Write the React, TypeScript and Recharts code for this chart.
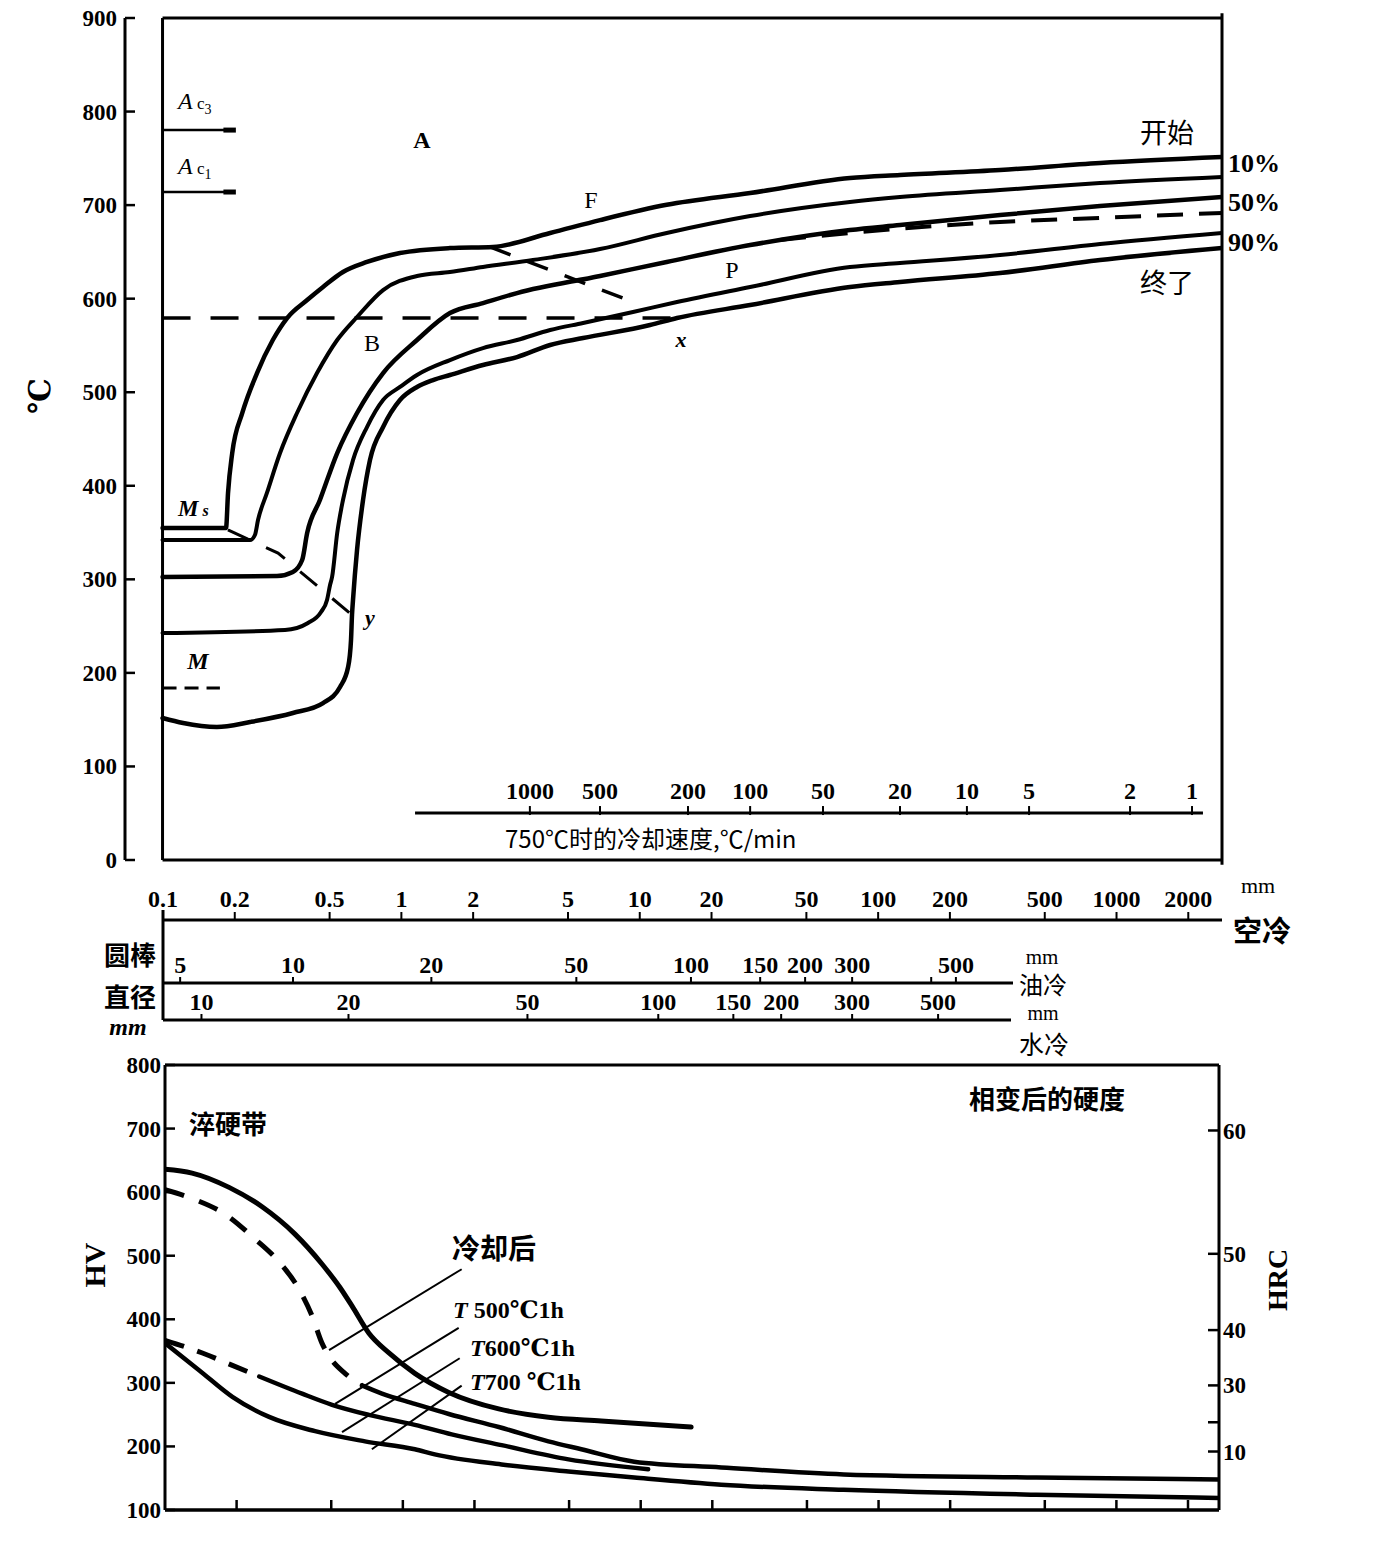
import React from 'react';
import { ComposedChart, Line, Scatter, XAxis, YAxis, ReferenceLine } from 'recharts';

const SERIF = '"Liberation Serif", "DejaVu Serif", serif';
const CJK = '"Noto Sans CJK SC", "Noto Sans CJK JP", sans-serif';

// ---------------- CCT diagram (top) ----------------
const tempTicks = [0, 100, 200, 300, 400, 500, 600, 700, 800, 900];

const startCurve = [
  { mm: 0.1, t: 354.9 }, { mm: 0.1846, t: 354.9 }, { mm: 0.1882, t: 392.3 }, { mm: 0.196, t: 435 },
  { mm: 0.216, t: 477.8 }, { mm: 0.249, t: 520.5 }, { mm: 0.29, t: 555.8 }, { mm: 0.333, t: 579.3 },
  { mm: 0.404, t: 598.5 }, { mm: 0.471, t: 612.5 }, { mm: 0.571, t: 628.5 }, { mm: 0.72, t: 639.2 },
  { mm: 0.99, t: 648.8 }, { mm: 1.604, t: 654.1 }, { mm: 2.43, t: 655.3 }, { mm: 4.22, t: 670.2 },
  { mm: 6.83, t: 684 }, { mm: 13.0, t: 700.3 }, { mm: 29.1, t: 712.9 }, { mm: 76.3, t: 729 },
  { mm: 123.7, t: 732.2 }, { mm: 325, t: 737.5 }, { mm: 853, t: 745 }, { mm: 2770, t: 751.4 },
];
const tenPctCurve = [
  { mm: 0.1, t: 342 }, { mm: 0.233, t: 342 }, { mm: 0.244, t: 347.4 }, { mm: 0.2514, t: 363.4 },
  { mm: 0.274, t: 392.3 }, { mm: 0.311, t: 435 }, { mm: 0.3664, t: 477.8 }, { mm: 0.4444, t: 520.5 },
  { mm: 0.54, t: 555.8 }, { mm: 0.654, t: 580.4 }, { mm: 0.841, t: 609.2 }, { mm: 1.167, t: 624.2 },
  { mm: 1.604, t: 628.5 }, { mm: 2.207, t: 633.8 }, { mm: 3.575, t: 641.3 }, { mm: 6.83, t: 653 },
  { mm: 13.0, t: 670.2 }, { mm: 29.1, t: 688.3 }, { mm: 76.3, t: 703.3 }, { mm: 123.7, t: 708.6 },
  { mm: 325, t: 716.1 }, { mm: 853, t: 723.6 }, { mm: 2770, t: 730.1 },
];
const fiftyPctCurve = [
  { mm: 0.1, t: 302.5 }, { mm: 0.302, t: 303.5 }, { mm: 0.352, t: 307.8 }, { mm: 0.385, t: 320.6 },
  { mm: 0.404, t: 349.5 }, { mm: 0.457, t: 384.8 }, { mm: 0.54, t: 435 }, { mm: 0.654, t: 477.8 },
  { mm: 0.841, t: 520.5 }, { mm: 1.167, t: 555.8 }, { mm: 1.604, t: 584.6 }, { mm: 2.207, t: 595.3 },
  { mm: 3.065, t: 606 }, { mm: 6.83, t: 624.2 }, { mm: 13.0, t: 639.2 }, { mm: 29.1, t: 657.3 },
  { mm: 76.3, t: 673.4 }, { mm: 123.7, t: 678.7 }, { mm: 325, t: 689.4 }, { mm: 853, t: 699 },
  { mm: 2770, t: 708.6 },
];
const ninetyPctCurve = [
  { mm: 0.1, t: 242.6 }, { mm: 0.3263, t: 245.8 }, { mm: 0.4074, t: 253.3 }, { mm: 0.462, t: 265.1 },
  { mm: 0.4895, t: 277.9 }, { mm: 0.504, t: 293.9 }, { mm: 0.514, t: 302.5 }, { mm: 0.54, t: 349.5 },
  { mm: 0.571, t: 384.8 }, { mm: 0.629, t: 427.5 }, { mm: 0.72, t: 462.8 }, { mm: 0.841, t: 491.7 },
  { mm: 0.99, t: 505.6 }, { mm: 1.167, t: 518.4 }, { mm: 1.604, t: 534.4 }, { mm: 2.207, t: 547.2 },
  { mm: 3.065, t: 555.8 }, { mm: 4.22, t: 566.5 }, { mm: 5.8, t: 574 }, { mm: 9.39, t: 585.7 },
  { mm: 14.36, t: 596.4 }, { mm: 29.1, t: 612.4 }, { mm: 76.3, t: 633.8 }, { mm: 123.7, t: 638.1 },
  { mm: 325, t: 646.7 }, { mm: 853, t: 658.4 }, { mm: 2770, t: 670.2 },
];
const finishCurve = [
  { mm: 0.1, t: 151.8 }, { mm: 0.122, t: 146.4 }, { mm: 0.169, t: 142.2 }, { mm: 0.233, t: 147.5 },
  { mm: 0.352, t: 157.1 }, { mm: 0.471, t: 167.8 }, { mm: 0.555, t: 184.9 }, { mm: 0.6, t: 206.3 },
  { mm: 0.617, t: 235.1 }, { mm: 0.623, t: 261.9 }, { mm: 0.629, t: 277.9 }, { mm: 0.654, t: 331.3 },
  { mm: 0.693, t: 384.8 }, { mm: 0.741, t: 427.5 }, { mm: 0.841, t: 462.8 }, { mm: 0.99, t: 491.7 },
  { mm: 1.167, t: 505.6 }, { mm: 1.362, t: 513 }, { mm: 1.604, t: 518.4 }, { mm: 2.207, t: 529.1 },
  { mm: 3.065, t: 537.6 }, { mm: 4.22, t: 550.5 }, { mm: 5.8, t: 557.9 }, { mm: 11.07, t: 571.8 },
  { mm: 14.36, t: 579.3 }, { mm: 29.1, t: 593.2 }, { mm: 76.3, t: 612.4 }, { mm: 123.7, t: 617.8 },
  { mm: 325, t: 627.4 }, { mm: 853, t: 641.3 }, { mm: 2770, t: 654.1 },
];
const pearliteDashed = [
  { mm: 38.8, t: 662.7 }, { mm: 76.3, t: 670.2 }, { mm: 325, t: 682 }, { mm: 853, t: 686.3 }, { mm: 2770, t: 691.7 },
];
const iso600Path = [{ mm: 0.1, t: 579.3 }, { mm: 14.09, t: 579.3 }];
const ferriteArrowPath = [{ mm: 2.36, t: 655.3 }, { mm: 8.95, t: 598.5 }];
const martensitePath = [{ mm: 0.188, t: 352.8 }, { mm: 0.305, t: 328.1 }, { mm: 0.623, t: 261.9 }];
const ac3Line = [{ mm: 0.1, t: 780.2 }, { mm: 0.201, t: 780.2 }];
const ac3Head = [{ mm: 0.18, t: 780.2 }, { mm: 0.203, t: 780.2 }];
const ac1Line = [{ mm: 0.1, t: 714 }, { mm: 0.201, t: 714 }];
const ac1Head = [{ mm: 0.18, t: 714 }, { mm: 0.203, t: 714 }];
const mLine = [{ mm: 0.1, t: 183.8 }, { mm: 0.174, t: 183.8 }];

const rateAxisLine = [{ mm: 1.145, t: 50.2 }, { mm: 2305, t: 50.2 }];
const rateTickPos = [3.47, 6.83, 15.97, 29.1, 58.8, 123.7, 236, 430, 1140, 2074];
const rateLabels = ['1000', '500', '200', '100', '50', '20', '10', '5', '2', '1'];
const rateTicks = rateTickPos.map((mm, i) => ({ mm, t: 50.2, label: rateLabels[i] }));

// ---------------- bar-diameter scales ----------------
const airTicks = [0.1, 0.2, 0.5, 1, 2, 5, 10, 20, 50, 100, 200, 500, 1000, 2000];
const airLabels = ['0.1', '0.2', '0.5', '1', '2', '5', '10', '20', '50', '100', '200', '500', '1000', '2000'];
const oilTickPos = [0.118, 0.351, 1.336, 5.42, 16.4, 32.0, 49.4, 77.8, 167, 212];
const oilLabels = ['5', '10', '20', '50', '100', '150', '200', '300', '', '500'];
const waterTickPos = [0.145, 0.6, 3.38, 11.96, 24.7, 39.2, 77.8, 178.5];
const waterLabels = ['10', '20', '50', '100', '150', '200', '300', '500'];

const airRows = airTicks.map((mm) => ({ mm, v: 0 }));
const oilRows = oilTickPos.map((mm) => ({ mm, v: 0 }));
const waterRows = waterTickPos.map((mm) => ({ mm, v: 0 }));

// ---------------- hardness chart (bottom) ----------------
const hvTicks = [100, 200, 300, 400, 500, 600, 700, 800];
const hrcTickHV = [697, 503, 383, 296, 238, 192];
const hrcLabels = ['60', '50', '40', '30', '', '10'];
const hardXTicks = [0.2, 0.5, 1, 2, 5, 10, 20, 50, 100, 200, 500, 1000, 2000];

const asCooledUpper = [
  { mm: 0.1, hv: 636 }, { mm: 0.13, hv: 630 }, { mm: 0.186, hv: 607.5 }, { mm: 0.256, hv: 577 },
  { mm: 0.352, hv: 534 }, { mm: 0.457, hv: 487 }, { mm: 0.544, hv: 450 }, { mm: 0.611, hv: 421 },
  { mm: 0.72, hv: 378 }, { mm: 0.874, hv: 347 }, { mm: 1.123, hv: 315 }, { mm: 1.56, hv: 285 },
  { mm: 2.53, hv: 259 }, { mm: 4.09, hv: 246 }, { mm: 6.83, hv: 240 }, { mm: 16.3, hv: 230.5 },
];
const asCooledDashed = [
  { mm: 0.1, hv: 604 }, { mm: 0.13, hv: 590 }, { mm: 0.1794, hv: 565 }, { mm: 0.2395, hv: 526 },
  { mm: 0.302, hv: 490 }, { mm: 0.3664, hv: 447 }, { mm: 0.415, hv: 405.5 }, { mm: 0.457, hv: 362.5 },
  { mm: 0.4895, hv: 342 }, { mm: 0.571, hv: 315 }, { mm: 0.673, hv: 296 },
];
const temper500 = [
  { mm: 0.673, hv: 296 }, { mm: 0.817, hv: 283 }, { mm: 1.123, hv: 267 }, { mm: 1.56, hv: 251 },
  { mm: 2.53, hv: 230.5 }, { mm: 4.09, hv: 208 }, { mm: 5.63, hv: 195.5 }, { mm: 9.39, hv: 176 },
  { mm: 21.8, hv: 167 }, { mm: 71.3, hv: 156 }, { mm: 460, hv: 151 }, { mm: 2700, hv: 148 },
];
const temper600Dashed = [
  { mm: 0.1, hv: 367 }, { mm: 0.1436, hv: 347 }, { mm: 0.192, hv: 327.5 }, { mm: 0.249, hv: 310 },
];
const temper600 = [
  { mm: 0.249, hv: 310 }, { mm: 0.377, hv: 283 }, { mm: 0.504, hv: 265.5 }, { mm: 0.72, hv: 249.6 },
  { mm: 1.123, hv: 234 }, { mm: 1.604, hv: 219 }, { mm: 2.6, hv: 202 }, { mm: 4.97, hv: 179.6 },
  { mm: 10.75, hv: 164 },
];
const temper700 = [
  { mm: 0.1, hv: 362.5 }, { mm: 0.1395, hv: 319.6 }, { mm: 0.192, hv: 278 }, { mm: 0.274, hv: 246.4 },
  { mm: 0.4276, hv: 224 }, { mm: 0.693, hv: 208 }, { mm: 1.123, hv: 195.5 }, { mm: 1.362, hv: 187.5 },
  { mm: 2.6, hv: 171.6 }, { mm: 4.97, hv: 160.5 }, { mm: 9.39, hv: 151 }, { mm: 21.8, hv: 139.8 },
  { mm: 71.3, hv: 131.8 }, { mm: 460, hv: 124 }, { mm: 2700, hv: 119 },
];
const leaderCooled = [{ mm: 0.4895, hv: 351.4 }, { mm: 1.767, hv: 478.7 }];
const leader500 = [{ mm: 0.519, hv: 267 }, { mm: 1.717, hv: 386.4 }];
const leader600 = [{ mm: 0.555, hv: 222.5 }, { mm: 1.734, hv: 338.7 }];
const leader700 = [{ mm: 0.741, hv: 195.5 }, { mm: 1.767, hv: 295.7 }];

// ---------------- helpers ----------------
const LeftTick = (gap: number) => (props: any) => {
  const { x, y, payload } = props;
  return (
    <g>
      <line x1={x} x2={x + 10} y1={y} y2={y} stroke="#000" strokeWidth={2.5} />
      <text x={x - gap} y={y} dy="0.35em" textAnchor="end" fontFamily={SERIF} fontWeight="bold" fontSize={23} fill="#000">
        {payload.value}
      </text>
    </g>
  );
};

const HrcTick = (props: any) => {
  const { x, y, payload } = props;
  const i = hrcTickHV.indexOf(payload.value);
  return (
    <g>
      <line x1={x - 11} x2={x} y1={y} y2={y} stroke="#000" strokeWidth={2.5} />
      <text x={x + 4} y={y} dy="0.35em" textAnchor="start" fontFamily={SERIF} fontWeight="bold" fontSize={23} fill="#000">
        {hrcLabels[i]}
      </text>
    </g>
  );
};

const BottomInnerTick = (props: any) => {
  const { x, y } = props;
  return <line x1={x} x2={x} y1={y} y2={y - 10} stroke="#000" strokeWidth={2.5} />;
};

const RateTick = (props: any) => {
  const { cx, cy, payload } = props;
  return (
    <g>
      <line x1={cx} x2={cx} y1={cy + 2} y2={cy - 7} stroke="#000" strokeWidth={2} />
      <text x={cx} y={cy - 14} textAnchor="middle" fontFamily={SERIF} fontWeight="bold" fontSize={24} fill="#000">
        {payload.label}
      </text>
    </g>
  );
};

const lookup = (ticks: number[], labels: string[]) => (v: number) => {
  const i = ticks.indexOf(v);
  return i >= 0 ? labels[i] : '';
};

const Txt = ({ x, y, size, children, bold = false, italic = false, font = SERIF, rotate = 0, anchor = 'middle' }: any) => (
  <div
    style={{
      position: 'absolute',
      left: x,
      top: y,
      transform: `translate(${anchor === 'start' ? '0' : '-50%'}, -50%)${rotate ? ` rotate(${rotate}deg)` : ''}`,
      fontSize: size,
      fontFamily: font,
      fontWeight: bold ? 'bold' : 'normal',
      fontStyle: italic ? 'italic' : 'normal',
      whiteSpace: 'nowrap',
      lineHeight: 1,
      color: '#000',
    }}
  >
    {children}
  </div>
);

const K = '#000';
const solid = (data: any[], w = 4.5, key?: string) => (
  <Line key={key} data={data} dataKey="t" xAxisId="x" yAxisId="t" type="monotone" dot={false} stroke={K}
    strokeWidth={w} isAnimationActive={false} strokeLinecap="round" />
);

const axisTextStyle = { fontFamily: SERIF, fontSize: 24, fontWeight: 'bold', fill: '#000' } as any;

export default function App() {
  return (
    <div style={{ position: 'absolute', left: 0, top: 0, width: 1400, height: 1553, background: '#fff', overflow: 'hidden' }}>
      {/* Top CCT chart */}
      <div style={{ position: 'absolute', left: 0, top: 0 }}>
        <ComposedChart width={1240} height={880} margin={{ top: 18, right: 18, bottom: 20, left: 0 }}>
          <XAxis xAxisId="x" type="number" dataKey="mm" scale="log" domain={[0.0696, 2770]} allowDataOverflow hide />
          <YAxis yAxisId="t" type="number" dataKey="t" domain={[0, 900]} ticks={tempTicks} interval={0} width={125}
            tickSize={0} tickMargin={0} tickLine={false} axisLine={{ stroke: K, strokeWidth: 3 }} tick={LeftTick(8)} allowDataOverflow />
          <ReferenceLine xAxisId="x" yAxisId="t" ifOverflow="visible" segment={[{ x: 0.1, y: 0 }, { x: 0.1, y: 900 }]} stroke={K} strokeWidth={3} />
          <ReferenceLine xAxisId="x" yAxisId="t" ifOverflow="visible" segment={[{ x: 0.1, y: 900 }, { x: 2770, y: 900 }]} stroke={K} strokeWidth={3} />
          <ReferenceLine xAxisId="x" yAxisId="t" ifOverflow="visible" segment={[{ x: 0.1, y: 0 }, { x: 2770, y: 0 }]} stroke={K} strokeWidth={3} />
          <ReferenceLine xAxisId="x" yAxisId="t" ifOverflow="visible" segment={[{ x: 2770, y: -5 }, { x: 2770, y: 905 }]} stroke={K} strokeWidth={3} />
          {solid(startCurve, 4.5, 'c1')}
          {solid(tenPctCurve, 4, 'c2')}
          {solid(fiftyPctCurve, 4.5, 'c3')}
          {solid(ninetyPctCurve, 4, 'c4')}
          {solid(finishCurve, 4.5, 'c5')}
          <Line data={pearliteDashed} dataKey="t" xAxisId="x" yAxisId="t" type="monotone" dot={false} stroke={K} strokeWidth={4} strokeDasharray="26 16" isAnimationActive={false} />
          <Line data={iso600Path} dataKey="t" xAxisId="x" yAxisId="t" type="linear" dot={false} stroke={K} strokeWidth={3.5} strokeDasharray="28 20" isAnimationActive={false} />
          <Line data={ferriteArrowPath} dataKey="t" xAxisId="x" yAxisId="t" type="linear" dot={false} stroke={K} strokeWidth={3.5} strokeDasharray="22 18" isAnimationActive={false} />
          <Line data={martensitePath} dataKey="t" xAxisId="x" yAxisId="t" type="linear" dot={false} stroke={K} strokeWidth={3} strokeDasharray="22 20" isAnimationActive={false} />
          <Line data={ac3Line} dataKey="t" xAxisId="x" yAxisId="t" type="linear" dot={false} stroke={K} strokeWidth={2.5} isAnimationActive={false} />
          <Line data={ac3Head} dataKey="t" xAxisId="x" yAxisId="t" type="linear" dot={false} stroke={K} strokeWidth={5} isAnimationActive={false} />
          <Line data={ac1Line} dataKey="t" xAxisId="x" yAxisId="t" type="linear" dot={false} stroke={K} strokeWidth={2.5} isAnimationActive={false} />
          <Line data={ac1Head} dataKey="t" xAxisId="x" yAxisId="t" type="linear" dot={false} stroke={K} strokeWidth={5} isAnimationActive={false} />
          <Line data={mLine} dataKey="t" xAxisId="x" yAxisId="t" type="linear" dot={false} stroke={K} strokeWidth={3} strokeDasharray="14 8" isAnimationActive={false} />
          <Line data={rateAxisLine} dataKey="t" xAxisId="x" yAxisId="t" type="linear" dot={false} stroke={K} strokeWidth={3} isAnimationActive={false} />
          <Scatter data={rateTicks} dataKey="t" xAxisId="x" yAxisId="t" shape={RateTick} isAnimationActive={false} />
        </ComposedChart>
      </div>

      {/* Air-cooling mm scale */}
      <div style={{ position: 'absolute', left: 0, top: 860 }}>
        <ComposedChart width={1240} height={165} data={airRows} margin={{ top: 0, right: 18, bottom: 5, left: 163 }}>
          <XAxis xAxisId="a" dataKey="mm" orientation="top" type="number" scale="log" domain={[0.1, 2770]} allowDataOverflow
            ticks={airTicks} interval={0} tickFormatter={lookup(airTicks, airLabels)} height={60} tickSize={8} tickMargin={5}
            axisLine={{ stroke: K, strokeWidth: 3 }} tickLine={{ stroke: K, strokeWidth: 2 }} tick={axisTextStyle} />
          <YAxis yAxisId="v" dataKey="v" type="number" domain={[0, 1]} hide />
          <ReferenceLine xAxisId="a" yAxisId="v" ifOverflow="visible" segment={[{ x: 0.1, y: 1.1 }, { x: 0.1, y: 0 }]} stroke={K} strokeWidth={3} />
        </ComposedChart>
      </div>

      {/* Oil-quench round bar scale */}
      <div style={{ position: 'absolute', left: 0, top: 940 }}>
        <ComposedChart width={1013} height={55} data={oilRows} margin={{ top: 0, right: 0, bottom: 0, left: 163 }}>
          <XAxis xAxisId="o" dataKey="mm" orientation="top" type="number" scale="log" domain={[0.1, 368]} allowDataOverflow
            ticks={oilTickPos} interval={0} tickFormatter={lookup(oilTickPos, oilLabels)} height={43} tickSize={6} tickMargin={4}
            axisLine={{ stroke: K, strokeWidth: 3 }} tickLine={{ stroke: K, strokeWidth: 2 }} tick={axisTextStyle} />
          <YAxis yAxisId="ov" dataKey="v" type="number" domain={[0, 1]} hide />
        </ComposedChart>
      </div>

      {/* Water-quench round bar scale */}
      <div style={{ position: 'absolute', left: 0, top: 975 }}>
        <ComposedChart width={1011} height={55} data={waterRows} margin={{ top: 0, right: 0, bottom: 0, left: 163 }}>
          <XAxis xAxisId="w" dataKey="mm" orientation="top" type="number" scale="log" domain={[0.1, 361]} allowDataOverflow
            ticks={waterTickPos} interval={0} tickFormatter={lookup(waterTickPos, waterLabels)} height={45} tickSize={6} tickMargin={4}
            axisLine={{ stroke: K, strokeWidth: 3 }} tickLine={{ stroke: K, strokeWidth: 2 }} tick={axisTextStyle} />
          <YAxis yAxisId="wv" dataKey="v" type="number" domain={[0, 1]} hide />
        </ComposedChart>
      </div>

      {/* Hardness chart */}
      <div style={{ position: 'absolute', left: 0, top: 1040 }}>
        <ComposedChart width={1300} height={490} margin={{ top: 25, right: 0, bottom: 0, left: 0 }}>
          <XAxis xAxisId="h" type="number" dataKey="mm" scale="log" domain={[0.1, 2700]} allowDataOverflow
            ticks={hardXTicks} interval={0} height={20} tickSize={0} tickMargin={0} tickLine={false}
            axisLine={{ stroke: K, strokeWidth: 3.5 }} tick={BottomInnerTick} />
          <YAxis yAxisId="hv" type="number" dataKey="hv" domain={[100, 800]} ticks={hvTicks} interval={0} width={165}
            tickSize={0} tickMargin={0} tickLine={false} axisLine={{ stroke: K, strokeWidth: 3 }} tick={LeftTick(4)} allowDataOverflow />
          <YAxis yAxisId="hrc" orientation="right" type="number" domain={[100, 800]} ticks={hrcTickHV} interval={0} width={81}
            tickSize={0} tickMargin={0} tickLine={false} axisLine={{ stroke: K, strokeWidth: 3 }} tick={HrcTick} allowDataOverflow />
          <ReferenceLine xAxisId="h" yAxisId="hv" ifOverflow="visible" y={800} stroke={K} strokeWidth={3} />
          <Line data={asCooledUpper} dataKey="hv" xAxisId="h" yAxisId="hv" type="monotone" dot={false} stroke={K} strokeWidth={5} isAnimationActive={false} strokeLinecap="round" />
          <Line data={asCooledDashed} dataKey="hv" xAxisId="h" yAxisId="hv" type="monotone" dot={false} stroke={K} strokeWidth={5} strokeDasharray="20 16" isAnimationActive={false} />
          <Line data={temper500} dataKey="hv" xAxisId="h" yAxisId="hv" type="monotone" dot={false} stroke={K} strokeWidth={4.5} isAnimationActive={false} strokeLinecap="round" />
          <Line data={temper600Dashed} dataKey="hv" xAxisId="h" yAxisId="hv" type="monotone" dot={false} stroke={K} strokeWidth={5} strokeDasharray="20 14" isAnimationActive={false} />
          <Line data={temper600} dataKey="hv" xAxisId="h" yAxisId="hv" type="monotone" dot={false} stroke={K} strokeWidth={4.5} isAnimationActive={false} strokeLinecap="round" />
          <Line data={temper700} dataKey="hv" xAxisId="h" yAxisId="hv" type="monotone" dot={false} stroke={K} strokeWidth={4.5} isAnimationActive={false} strokeLinecap="round" />
          <Line data={leaderCooled} dataKey="hv" xAxisId="h" yAxisId="hv" type="linear" dot={false} stroke={K} strokeWidth={2} isAnimationActive={false} />
          <Line data={leader500} dataKey="hv" xAxisId="h" yAxisId="hv" type="linear" dot={false} stroke={K} strokeWidth={2} isAnimationActive={false} />
          <Line data={leader600} dataKey="hv" xAxisId="h" yAxisId="hv" type="linear" dot={false} stroke={K} strokeWidth={2} isAnimationActive={false} />
          <Line data={leader700} dataKey="hv" xAxisId="h" yAxisId="hv" type="linear" dot={false} stroke={K} strokeWidth={2} isAnimationActive={false} />
        </ComposedChart>
      </div>

      {/* ---- text annotations: top chart ---- */}
      <Txt x={40} y={396} size={30} bold rotate={-90}>℃</Txt>
      <Txt x={422} y={140} size={24} bold>A</Txt>
      <Txt x={591} y={200} size={24}>F</Txt>
      <Txt x={372} y={343} size={24}>B</Txt>
      <Txt x={732} y={270} size={24}>P</Txt>
      <Txt x={681} y={340} size={22} bold italic>x</Txt>
      <Txt x={370} y={618} size={22} bold italic>y</Txt>
      <Txt x={178} y={103} size={24} italic anchor="start">A<span style={{ fontSize: 17, fontStyle: 'normal' }}> c<sub style={{ fontSize: 14 }}>3</sub></span></Txt>
      <Txt x={178} y={168} size={24} italic anchor="start">A<span style={{ fontSize: 17, fontStyle: 'normal' }}> c<sub style={{ fontSize: 14 }}>1</sub></span></Txt>
      <Txt x={178} y={508} size={23} italic bold anchor="start">M<span style={{ fontSize: 16 }}> s</span></Txt>
      <Txt x={198} y={661} size={24} italic bold>M</Txt>
      <Txt x={1167} y={131} size={27} font={CJK}>开始</Txt>
      <Txt x={1167} y={281} size={27} font={CJK}>终了</Txt>
      <Txt x={1228} y={164} size={26} bold anchor="start">10%</Txt>
      <Txt x={1228} y={203} size={26} bold anchor="start">50%</Txt>
      <Txt x={1228} y={243} size={26} bold anchor="start">90%</Txt>
      <Txt x={505} y={838} size={24} anchor="start" font={CJK}>750℃时的冷却速度,℃/min</Txt>

      {/* ---- scale labels ---- */}
      <Txt x={1258} y={886} size={22}>mm</Txt>
      <Txt x={1262} y={929} size={29} bold font={CJK}>空冷</Txt>
      <Txt x={130} y={954} size={26} bold font={CJK}>圆棒</Txt>
      <Txt x={130} y={996} size={26} bold font={CJK}>直径</Txt>
      <Txt x={128} y={1027} size={24} bold italic>mm</Txt>
      <Txt x={1042} y={957} size={21}>mm</Txt>
      <Txt x={1043} y={984} size={24} font={CJK}>油冷</Txt>
      <Txt x={1043} y={1013} size={20}>mm</Txt>
      <Txt x={1044} y={1043} size={25} font={CJK}>水冷</Txt>

      {/* ---- hardness chart labels ---- */}
      <Txt x={228} y={1123} size={26} bold font={CJK}>淬硬带</Txt>
      <Txt x={1047} y={1098} size={26} bold font={CJK}>相变后的硬度</Txt>
      <Txt x={95} y={1265} size={30} bold rotate={-90}>HV</Txt>
      <Txt x={1278} y={1280} size={28} bold rotate={-90}>HRC</Txt>
      <Txt x={494} y={1247} size={28} bold font={CJK}>冷却后</Txt>
      <Txt x={453} y={1310} size={24} bold anchor="start"><i>T</i> 500℃1h</Txt>
      <Txt x={470} y={1348} size={24} bold anchor="start"><i>T</i>600℃1h</Txt>
      <Txt x={470} y={1382} size={24} bold anchor="start"><i>T</i>700 ℃1h</Txt>
    </div>
  );
}
